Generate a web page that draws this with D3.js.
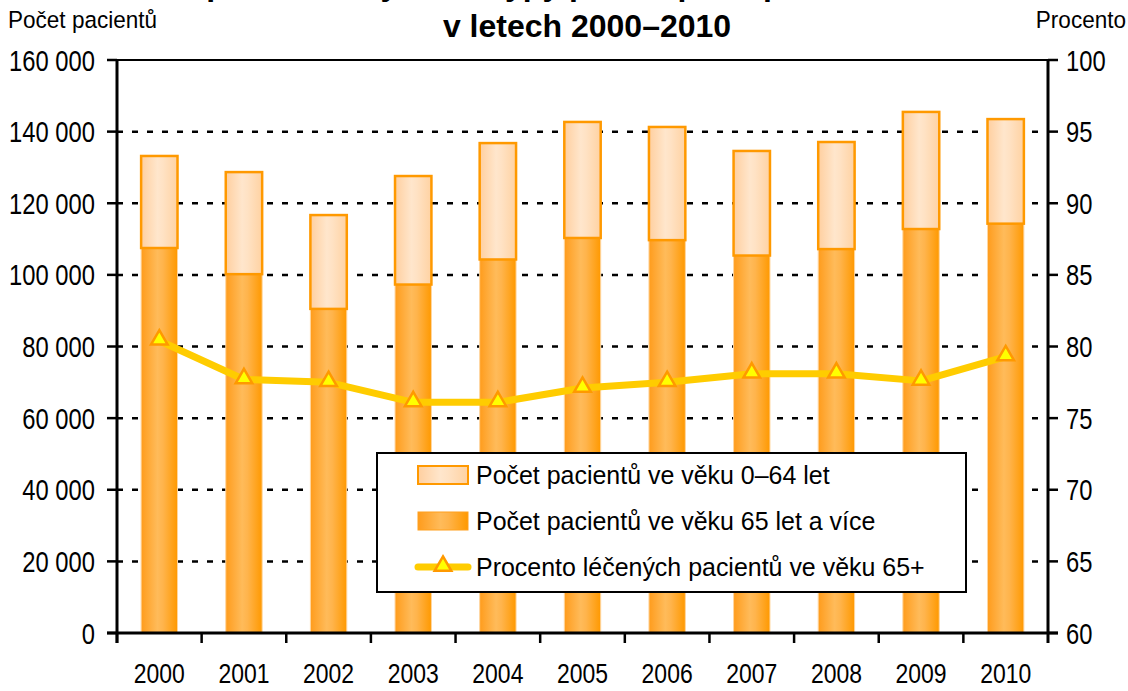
<!DOCTYPE html>
<html>
<head>
<meta charset="utf-8">
<script src="https://cdn.jsdelivr.net/npm/d3@7"></script>
<style>
  body { margin: 0; background: #fff; }
  text { font-family: "Liberation Sans", Arial, sans-serif; fill: #000; }
</style>
</head>
<body>
<svg id="chart" width="1128" height="691"></svg>
<script>
// Data
var years = ["2000", "2001", "2002", "2003", "2004", "2005", "2006", "2007", "2008", "2009", "2010"];
var total = [133200, 128700, 116700, 127600, 136800, 142700, 141300, 134600, 137100, 145500, 143500];
var senior = [107500, 100200, 90500, 97300, 104300, 110300, 109700, 105400, 107200, 112800, 114300];
var percent = [80.4, 77.7, 77.5, 76.1, 76.1, 77.1, 77.5, 78.1, 78.1, 77.6, 79.3];
var leftTicks = [0, 20000, 40000, 60000, 80000, 100000, 120000, 140000, 160000];
var rightTicks = [60, 65, 70, 75, 80, 85, 90, 95, 100];
var legendLabels = ["Počet pacientů ve věku 0–64 let", "Počet pacientů ve věku 65 let a více", "Procento léčených pacientů ve věku 65+"];

var svg = d3.select("#chart");
var plotL = 117, plotR = 1048, plotT = 60, plotB = 633;

// Scales
var x = d3.scaleBand().domain(years).range([plotL, plotR]).paddingInner(0.57).paddingOuter(0.285);
var yL = d3.scaleLinear().domain([0, 160000]).range([plotB, plotT]);
var yR = d3.scaleLinear().domain([60, 100]).range([plotB, plotT]);
var fmt = d3.formatLocale({ decimal: ",", thousands: " ", grouping: [3], currency: ["", ""] }).format(",");

// Condensed text helper (the original font is tall and narrow)
function narrowText(g, tx, ty, txt, size, sx, anchor) {
    return g.append("text")
        .attr("transform", "translate(" + tx + "," + ty + ") scale(" + sx + ",1)")
        .attr("text-anchor", anchor || "start")
        .style("font-size", size + "px").text(txt);
}

// Gradients
var defs = svg.append("defs");
function grad(id, stops) {
    var g = defs.append("linearGradient").attr("id", id).attr("x1", "0").attr("x2", "1").attr("y1", "0").attr("y2", "0");
    stops.forEach(s => g.append("stop").attr("offset", s[0]).attr("stop-color", s[1]));
}
grad("gDark", [[0, "#ff9c1c"], [0.45, "#ffbb5a"], [0.6, "#ffb44c"], [1, "#ff9900"]]);
grad("gLight", [[0, "#ffcf9f"], [0.45, "#ffe6cc"], [0.6, "#ffe2c4"], [1, "#ffd2a2"]]);

// Titles. The first line is cut off above the picture in the original, only
// the tips of its descenders show, so its wording here is a guess.
svg.append("text").attr("x", 590).attr("y", -5).attr("text-anchor", "middle")
    .style("font-size", "32px").style("font-weight", "bold")
    .text("Léčení pacienti – vybrané typy péče a podíl pacientů ve věku 65+");
svg.append("text").attr("x", 587).attr("y", 37).attr("text-anchor", "middle")
    .style("font-size", "32px").style("font-weight", "bold")
    .text("v letech 2000–2010");
narrowText(svg, 8, 28, "Počet pacientů", 24.5, 0.92);
narrowText(svg, 1126, 28, "Procento", 24.5, 0.92, "end");

// Gridlines
svg.append("g").selectAll("line").data(leftTicks.filter(d => d > 0 && d < 160000)).join("line")
    .attr("x1", plotL).attr("x2", plotR)
    .attr("y1", d => yL(d)).attr("y2", d => yL(d))
    .attr("stroke", "#000").attr("stroke-width", 2.5).attr("stroke-dasharray", "6,9");
svg.append("line").attr("x1", plotL).attr("x2", plotR).attr("y1", plotT).attr("y2", plotT)
    .attr("stroke", "#000").attr("stroke-width", 2);

// Bars
var bars = svg.append("g");
years.forEach((yr, i) => {
    bars.append("rect")
        .attr("x", x(yr)).attr("width", x.bandwidth())
        .attr("y", yL(senior[i])).attr("height", yL(0) - yL(senior[i]))
        .attr("fill", "url(#gDark)").attr("stroke", "#ffd6a0").attr("stroke-width", 1);
    bars.append("rect")
        .attr("x", x(yr)).attr("width", x.bandwidth())
        .attr("y", yL(total[i])).attr("height", yL(senior[i]) - yL(total[i]))
        .attr("fill", "url(#gLight)").attr("stroke", "#ff9900").attr("stroke-width", 2.5);
});

// Axes
var axes = svg.append("g").attr("stroke", "#000");
axes.append("line").attr("x1", plotL).attr("x2", plotL).attr("y1", plotT - 1).attr("y2", plotB + 10).attr("stroke-width", 3);
axes.append("line").attr("x1", plotR).attr("x2", plotR).attr("y1", plotT - 1).attr("y2", plotB + 10).attr("stroke-width", 3);
axes.append("line").attr("x1", plotL - 10).attr("x2", plotR + 10).attr("y1", plotB).attr("y2", plotB).attr("stroke-width", 3);
leftTicks.forEach(t => {
    axes.append("line").attr("x1", plotL - 10).attr("x2", plotL).attr("y1", yL(t)).attr("y2", yL(t)).attr("stroke-width", 2.5);
});
rightTicks.forEach(t => {
    axes.append("line").attr("x1", plotR).attr("x2", plotR + 10).attr("y1", yR(t)).attr("y2", yR(t)).attr("stroke-width", 2.5);
});
years.forEach((yr, i) => {
    var bx = plotL + i * x.step();
    axes.append("line").attr("x1", bx).attr("x2", bx).attr("y1", plotB).attr("y2", plotB + 10).attr("stroke-width", 2.5);
});

// Tick labels
var tl = svg.append("g");
leftTicks.forEach(t => narrowText(tl, 95, yL(t) + 10.5, fmt(t), 29, 0.82, "end"));
rightTicks.forEach(t => narrowText(tl, 1066, yR(t) + 10.5, String(t), 29, 0.82));
years.forEach(yr => narrowText(tl, x(yr) + x.bandwidth() / 2, 683, yr, 28, 0.82, "middle"));

// Percent line
var line = d3.line().x((d, i) => x(years[i]) + x.bandwidth() / 2).y(d => yR(d));
svg.append("path").datum(percent).attr("d", line)
    .attr("fill", "none").attr("stroke", "#ffcc00").attr("stroke-width", 7).attr("stroke-linejoin", "round");
var tri = d3.symbol().type(d3.symbolTriangle).size(120);
svg.append("g").selectAll("path").data(percent).join("path")
    .attr("d", tri)
    .attr("transform", (d, i) => "translate(" + (x(years[i]) + x.bandwidth() / 2) + "," + (yR(d) - 1) + ")")
    .attr("fill", "#ffff00").attr("stroke", "#ff9900").attr("stroke-width", 2.5);

// Legend
var lg = svg.append("g");
lg.append("rect").attr("x", 377).attr("y", 453).attr("width", 589).attr("height", 139)
    .attr("fill", "#fff").attr("stroke", "#000").attr("stroke-width", 2);
var rowY = [475, 521, 567];
lg.append("rect").attr("x", 418).attr("y", rowY[0] - 9).attr("width", 50).attr("height", 18)
    .attr("fill", "url(#gLight)").attr("stroke", "#ff9900").attr("stroke-width", 2);
lg.append("rect").attr("x", 418).attr("y", rowY[1] - 9).attr("width", 50).attr("height", 18)
    .attr("fill", "url(#gDark)").attr("stroke", "#ffa01e").attr("stroke-width", 1);
lg.append("line").attr("x1", 418).attr("x2", 468).attr("y1", rowY[2]).attr("y2", rowY[2])
    .attr("stroke", "#ffcc00").attr("stroke-width", 7).attr("stroke-linecap", "round");
lg.append("path").attr("d", tri).attr("transform", "translate(443," + (rowY[2] - 1) + ")")
    .attr("fill", "#ffff00").attr("stroke", "#ff9900").attr("stroke-width", 2.5);
legendLabels.forEach((d, i) => narrowText(lg, 476, rowY[i] + 9, d, 26, 0.96));
</script>
</body>
</html>
